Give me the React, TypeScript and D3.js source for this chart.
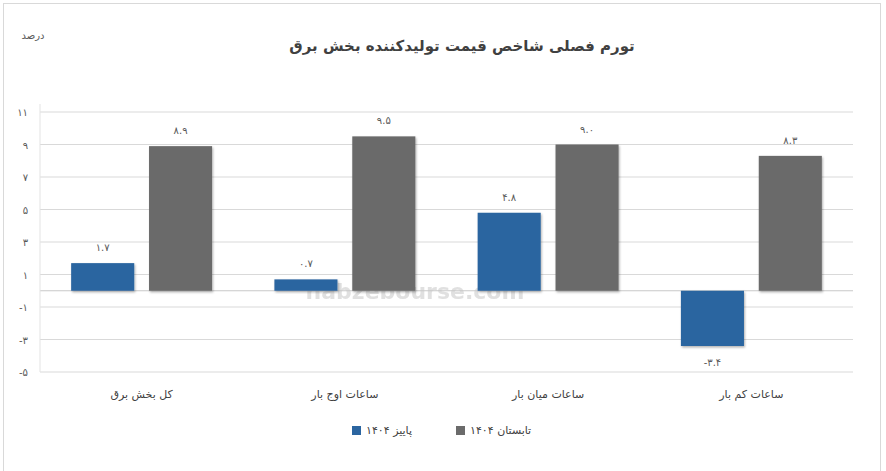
import React from "react";
import * as d3 from "d3";

const categories = ["کل بخش برق", "ساعات اوج بار", "ساعات میان بار", "ساعات کم بار"];
const seriesNames = ["پاییز ۱۴۰۴", "تابستان ۱۴۰۴"];
const autumn = [1.7, 0.7, 4.8, -3.4];
const summer = [8.9, 9.5, 9.0, 8.3];
const yTicks = [-5, -3, -1, 1, 3, 5, 7, 9, 11];
const title = "تورم فصلی شاخص قیمت تولیدکننده بخش برق";
const unitLabel = "درصد";

const W = 886;
const H = 471;
const colors = ["#2b65a0", "#6b6b6b"];
const FONT = "'DejaVu Sans', sans-serif";

const fa = (s: string) => s.replace(/[0-9]/g, (d) => "۰۱۲۳۴۵۶۷۸۹"[+d]);
const fmtVal = (v: number) => fa(v.toFixed(1));
const fmtTick = (v: number) => fa(String(v));

export default function App() {
  const left = 40, right = 853, top = 112, bottom = 372;
  const y = d3.scaleLinear().domain([-5, 11]).range([bottom, top]);
  const x = d3.scaleBand<string>().domain(categories).range([left, right]).padding(0);
  const xs = d3
    .scaleBand<string>()
    .domain(seriesNames)
    .range([0, x.bandwidth()])
    .paddingInner(0.19)
    .paddingOuter(0.4);
  const data = [autumn, summer];

  return (
    <svg
      width={W}
      height={H}
      style={{ position: "absolute", left: 0, top: 0, background: "#fff", fontFamily: FONT }}
    >
      <defs>
        <filter id="sh" x="-20%" y="-20%" width="140%" height="140%">
          <feDropShadow dx="1" dy="1.5" stdDeviation="1.2" floodColor="#000" floodOpacity="0.3" />
        </filter>
      </defs>
      <rect x={3.5} y={3.5} width={877} height={480} fill="#fff" stroke="#d9d9d9" />

      <text x={462} y={51} textAnchor="middle" fontSize={15} fontWeight="bold" fill="#404040">
        {title}
      </text>
      <text x={33} y={39} textAnchor="middle" fontSize={10} fill="#595959">
        {unitLabel}
      </text>

      {/* gridlines */}
      {yTicks.map((t) => (
        <line key={t} x1={left} x2={right} y1={y(t)} y2={y(t)} stroke="#d9d9d9" strokeWidth={1} />
      ))}
      <line x1={left} x2={right} y1={y(0)} y2={y(0)} stroke="#c8c8c8" strokeWidth={1} />
      <line x1={left} x2={left} y1={top - 8} y2={bottom} stroke="#e3e3e3" strokeWidth={1} />

      {yTicks.map((t) => (
        <text key={t} x={28} y={y(t) + 4} textAnchor="end" fontSize={10} fill="#595959">
          {fmtTick(t)}
        </text>
      ))}

      {/* watermark */}
      <text x={415} y={299} textAnchor="middle" fontSize={22} fontWeight="bold" fill="#c8c8c8" opacity={0.55}>
        nabzebourse.com
      </text>

      {/* bars */}
      {categories.map((c, i) =>
        seriesNames.map((s, j) => {
          const v = data[j][i];
          const bx = (x(c) ?? 0) + (xs(s) ?? 0);
          const y0 = y(Math.max(0, v));
          const y1 = y(Math.min(0, v));
          const ly = v >= 0 ? y0 - 16 : y1 + 16;
          return (
            <g key={c + s}>
              <rect x={bx} y={y0} width={xs.bandwidth()} height={y1 - y0} fill={colors[j]} filter="url(#sh)" />
              <text
                x={bx + xs.bandwidth() / 2}
                y={ly + 4}
                textAnchor="middle"
                fontSize={10}
                fill="#595959"
              >
                {fmtVal(v)}
              </text>
            </g>
          );
        })
      )}

      {/* category labels */}
      {categories.map((c) => (
        <text
          key={c}
          x={(x(c) ?? 0) + x.bandwidth() / 2}
          y={398}
          textAnchor="middle"
          fontSize={11}
          fill="#404040"
        >
          {c}
        </text>
      ))}

      {/* legend */}
      {[
        { name: seriesNames[0], color: colors[0], sx: 352 },
        { name: seriesNames[1], color: colors[1], sx: 456 },
      ].map((l) => (
        <g key={l.name}>
          <rect x={l.sx} y={426} width={9} height={9} fill={l.color} />
          <text x={l.sx + 14} y={434} fontSize={11} fill="#404040">
            {l.name}
          </text>
        </g>
      ))}
    </svg>
  );
}
